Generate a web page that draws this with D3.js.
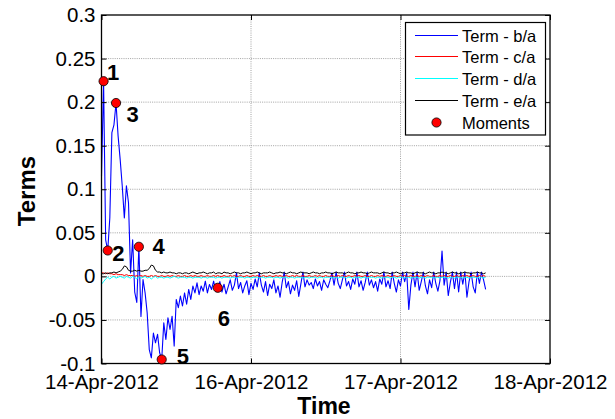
<!DOCTYPE html>
<html>
<head>
<meta charset="utf-8">
<script src="https://cdn.jsdelivr.net/npm/d3@7/dist/d3.min.js"></script>
<style>
  html, body { margin: 0; padding: 0; background: #fff; }
  svg { display: block; font-family: "Liberation Sans", Arial, sans-serif; }
</style>
</head>
<body>
<div id="chart"></div>
<script>
// Sampling: one value every 20 minutes, time measured in days from the left edge of the axis
const sampleStepDays = 1 / 72;

// Term - b/a
const termBA = [
  0.115, 0.224, 0.042, 0.0297, 0.067, 0.165, 0.174, 0.199, 0.161, 0.134,
  0.1035, 0.067, 0.104, 0.0845, 0.004, 0.042, -0.018, -0.030, 0.034, -0.046,
  -0.0036, -0.019, -0.042, -0.084, -0.0935, -0.065, -0.0762, -0.0666, -0.0877, -0.0954,
  -0.0533, -0.0724, -0.0475, -0.061, -0.0457, -0.080, -0.0265, -0.036, -0.0227, -0.034,
  -0.019, -0.032, -0.015, -0.0265, -0.011, -0.019, -0.0074, -0.021, -0.011, -0.017,
  -0.0055, -0.019, -0.0093, -0.015, -0.0055, -0.017, -0.0131, -0.006, -0.018, -0.009,
  -0.020, -0.012, -0.004, -0.016, -0.010, 0.004, -0.014, -0.007, -0.019, -0.011,
  -0.005, -0.021, -0.008, -0.015, -0.003, -0.012, 0.004, -0.010, -0.018, -0.006,
  -0.022, -0.009, -0.014, -0.004, -0.019, -0.011, -0.024, -0.007, 0.005, -0.013,
  -0.006, -0.020, -0.010, -0.016, -0.005, -0.023, -0.009, 0.005, -0.012, -0.004,
  -0.010, -0.007, -0.014, -0.003, -0.011, -0.006, -0.016, -0.004, -0.009, -0.013,
  -0.005, 0.004, -0.010, 0.005, -0.008, -0.014, -0.004, 0.005, -0.011, -0.006,
  -0.015, -0.003, -0.009, 0.005, -0.012, -0.005, -0.016, -0.007, 0.005, -0.010,
  -0.004, -0.013, -0.006, -0.017, -0.003, -0.009, 0.005, -0.012, -0.005, -0.014,
  0.005, -0.008, -0.018, -0.004, -0.011, 0.005, -0.006, 0.004, -0.038, -0.010,
  0.005, -0.012, 0.005, -0.016, -0.006, 0.005, -0.011, -0.020, -0.004, -0.013,
  0.005, -0.008, -0.017, -0.005, 0.029, -0.010, 0.005, -0.022, -0.007, 0.005,
  -0.014, 0.005, -0.018, 0.005, -0.009, 0.005, -0.024, -0.006, 0.005, -0.012,
  -0.019, 0.005, -0.008, 0.005, -0.004, -0.015
];

// Term - c/a
const termCA = [
  0.004, 0.004, 0.003, 0.004, 0.003, 0.003, 0.002, 0.003, 0.002, 0.002,
  0.002, 0.001, 0.002, 0.001, 0.001, 0.001, 0.000, 0.001, 0.000, 0.001,
  0.000, 0.001, 0.000, 0.000, 0.001, 0.000, 0.001, 0.000, 0.000, 0.001,
  0.000, 0.000, 0.001, 0.000, 0.001, 0.000, 0.000, 0.001, 0.000, 0.000,
  0.001, 0.000, 0.000, 0.001, 0.000, 0.001, 0.000, 0.000, 0.001, 0.000,
  0.000, 0.001, 0.000, 0.000, 0.001, 0.000, 0.001, 0.000, 0.000, 0.001,
  0.000, 0.000, 0.001, 0.000, 0.001, 0.000, 0.000, 0.001, 0.000, 0.000,
  0.001, 0.000, 0.000, 0.001, 0.000, 0.001, 0.000, 0.000, 0.001, 0.000,
  0.000, 0.001, 0.000, 0.000, 0.001, 0.000, 0.001, 0.000, 0.000, 0.001,
  0.000, 0.000, 0.001, 0.000, 0.001, 0.000, 0.000, 0.001, 0.000, 0.000,
  0.001, 0.000, 0.000, 0.001, 0.000, 0.001, 0.000, 0.000, 0.001, 0.000,
  0.000, 0.001, 0.000, 0.000, 0.001, 0.000, 0.001, 0.000, 0.000, 0.001,
  0.000, 0.000, 0.001, 0.000, 0.001, 0.000, 0.000, 0.001, 0.000, 0.000,
  0.001, 0.000, 0.000, 0.001, 0.000, 0.001, 0.000, 0.000, 0.001, 0.000,
  0.000, 0.001, 0.000, 0.000, 0.001, 0.000, 0.001, 0.000, 0.000, 0.001,
  0.000, 0.000, 0.001, 0.000, 0.001, 0.000, 0.000, 0.001, 0.000, 0.000,
  0.001, 0.000, 0.000, 0.001, 0.000, 0.001, 0.000, 0.000, 0.001, 0.000,
  0.000, 0.001, 0.000, 0.000, 0.001, 0.000, 0.001, 0.000, 0.000, 0.001,
  0.000, 0.000, 0.001, 0.000, 0.001, 0.000
];

// Term - d/a
const termDA = [
  -0.009, -0.006, -0.003, -0.001, -0.003, -0.001, 0.000, -0.002, -0.001, 0.000,
  -0.001, -0.002, 0.000, -0.001, -0.002, 0.000, -0.001, -0.003, 0.000, -0.002,
  -0.001, 0.000, -0.002, -0.001, -0.003, -0.001, 0.000, -0.002, -0.001, -0.001,
  -0.002, -0.001, -0.001, -0.002, -0.001, 0.000, -0.001, -0.002, -0.001, -0.001,
  -0.001, -0.002, -0.001, -0.001, -0.002, -0.001, -0.001, -0.001, -0.002, -0.001,
  -0.001, -0.002, -0.001, -0.001, -0.001, -0.002, -0.001, -0.001, -0.002, -0.001,
  -0.001, -0.001, -0.002, -0.001, -0.001, -0.002, -0.001, -0.001, -0.001, -0.002,
  -0.001, -0.001, -0.002, -0.001, -0.001, -0.001, -0.002, -0.001, -0.001, -0.002,
  -0.001, -0.001, -0.001, -0.002, -0.001, -0.001, -0.002, -0.001, -0.001, -0.001,
  -0.002, -0.001, -0.001, -0.002, -0.001, -0.001, -0.001, -0.002, -0.001, -0.001,
  -0.002, -0.001, -0.001, -0.001, -0.002, -0.001, -0.001, -0.002, -0.001, -0.001,
  -0.001, -0.002, -0.001, -0.001, -0.002, -0.001, -0.001, -0.001, -0.002, -0.001,
  -0.001, -0.002, -0.001, -0.001, -0.001, -0.002, -0.001, -0.001, -0.002, -0.001,
  -0.001, -0.001, -0.002, -0.001, -0.001, -0.002, -0.001, -0.001, -0.001, -0.002,
  -0.001, -0.001, -0.002, -0.001, -0.001, -0.001, -0.002, -0.001, -0.001, -0.002,
  -0.001, -0.001, -0.001, -0.002, -0.001, -0.001, -0.002, -0.001, -0.001, -0.001,
  -0.002, -0.001, -0.001, -0.002, -0.001, -0.001, -0.001, -0.002, -0.001, -0.001,
  -0.002, -0.001, -0.001, -0.001, -0.002, -0.001, -0.001, -0.002, -0.001, -0.001,
  -0.001, -0.002, -0.001, -0.001, -0.002, -0.001
];

// Term - e/a
const termEA = [
  0.003, 0.003, 0.004, 0.003, 0.004, 0.004, 0.005, 0.004, 0.005, 0.006,
  0.008, 0.012, 0.011, 0.007, 0.006, 0.006, 0.007, 0.006, 0.007, 0.006,
  0.006, 0.007, 0.007, 0.009, 0.013, 0.012, 0.007, 0.005, 0.005, 0.004,
  0.005, 0.004, 0.004, 0.005, 0.004, 0.004, 0.003, 0.004, 0.004, 0.003,
  0.004, 0.004, 0.003, 0.004, 0.005, 0.004, 0.003, 0.004, 0.004, 0.005,
  0.004, 0.003, 0.004, 0.004, 0.005, 0.003, 0.004, 0.004, 0.003, 0.005,
  0.004, 0.004, 0.003, 0.004, 0.005, 0.004, 0.004, 0.003, 0.004, 0.004,
  0.005, 0.004, 0.003, 0.004, 0.004, 0.005, 0.004, 0.003, 0.004, 0.004,
  0.004, 0.005, 0.004, 0.003, 0.004, 0.004, 0.005, 0.004, 0.004, 0.003,
  0.004, 0.005, 0.004, 0.004, 0.003, 0.004, 0.005, 0.004, 0.004, 0.004,
  0.003, 0.004, 0.005, 0.004, 0.004, 0.003, 0.004, 0.004, 0.005, 0.004,
  0.004, 0.003, 0.004, 0.005, 0.004, 0.004, 0.004, 0.003, 0.004, 0.005,
  0.004, 0.004, 0.003, 0.004, 0.004, 0.005, 0.004, 0.004, 0.003, 0.004,
  0.005, 0.004, 0.004, 0.004, 0.003, 0.004, 0.005, 0.004, 0.004, 0.003,
  0.004, 0.004, 0.005, 0.004, 0.003, 0.004, 0.004, 0.005, 0.004, 0.004,
  0.003, 0.004, 0.005, 0.004, 0.004, 0.004, 0.003, 0.004, 0.005, 0.004,
  0.004, 0.003, 0.004, 0.004, 0.005, 0.004, 0.004, 0.003, 0.004, 0.005,
  0.004, 0.004, 0.003, 0.004, 0.004, 0.005, 0.004, 0.004, 0.003, 0.004,
  0.004, 0.005, 0.004, 0.004, 0.003, 0.004
];

// Moments: sample indices on the b/a series, and their labels
const momentIndices = [1, 3, 7, 18, 29, 56];
const momentLabels = ["1", "2", "3", "4", "5", "6"];

// Axis ticks
const xTickValues = [0, 1, 2, 3];
const xTickLabels = ["14-Apr-2012", "16-Apr-2012", "17-Apr-2012", "18-Apr-2012"];
const yTickValues = [-0.1, -0.05, 0, 0.05, 0.1, 0.15, 0.2, 0.25, 0.3];
const yTickLabels = ["-0.1", "-0.05", "0", "0.05", "0.1", "0.15", "0.2", "0.25", "0.3"];

const legendLabels = ["Term - b/a", "Term - c/a", "Term - d/a", "Term - e/a", "Moments"];

// ---- layout & style ----
const W = 615, H = 419;
const box = { left: 101.5, right: 550, top: 15, bottom: 363.5 };
const seriesStyle = [
  { values: termBA, color: "#0000ff", width: 1.1 },
  { values: termCA, color: "#ff0000", width: 1 },
  { values: termDA, color: "#00ffff", width: 1 },
  { values: termEA, color: "#000000", width: 1 }
];
// label placement relative to each moment marker (px)
const momentLabelOffsets = [[3.5, -1.5], [4.5, 11], [10.5, 19.5], [13.5, 7.5], [15, 5], [0, 38.5]];

const svg = d3.select("#chart").append("svg").attr("width", W).attr("height", H);

const x = d3.scaleLinear().domain([0, 3]).range([box.left, box.right]);
const y = d3.scaleLinear().domain([-0.1, 0.3]).range([box.bottom, box.top]);

const plotW = box.right - box.left, plotH = box.bottom - box.top;

// grid
const grid = svg.append("g").attr("class", "grid")
  .attr("stroke", "#8c8c8c").attr("stroke-width", 0.8).attr("stroke-dasharray", "1,1.2");
grid.selectAll("line.v").data(xTickValues.slice(1, -1)).enter().append("line")
  .attr("x1", d => x(d)).attr("x2", d => x(d)).attr("y1", box.top).attr("y2", box.bottom);
grid.selectAll("line.h").data(yTickValues.slice(1, -1)).enter().append("line")
  .attr("x1", box.left).attr("x2", box.right).attr("y1", d => y(d)).attr("y2", d => y(d));

// series
const line = d3.line().x((d, i) => x(i * sampleStepDays)).y(d => y(d));
svg.append("g").selectAll("path").data(seriesStyle).enter().append("path")
  .attr("d", d => line(d.values))
  .attr("fill", "none")
  .attr("stroke", d => d.color)
  .attr("stroke-width", d => d.width)
  .attr("stroke-linejoin", "round");

// axes (inward ticks on all four sides)
const tickLen = 5;
const fontTick = "20.5px";
const axBottom = d3.axisBottom(x).tickValues(xTickValues)
  .tickFormat((d, i) => xTickLabels[i]).tickSizeInner(-tickLen).tickSizeOuter(0).tickPadding(10.5);
const axTop = d3.axisTop(x).tickValues(xTickValues).tickFormat("").tickSizeInner(-tickLen).tickSizeOuter(0);
const axLeft = d3.axisLeft(y).tickValues(yTickValues)
  .tickFormat((d, i) => yTickLabels[i]).tickSizeInner(-tickLen).tickSizeOuter(0).tickPadding(6);
const axRight = d3.axisRight(y).tickValues(yTickValues).tickFormat("").tickSizeInner(-tickLen).tickSizeOuter(0);

function styleAxis(g) {
  g.select(".domain").remove();
  g.selectAll(".tick line").attr("stroke", "#000").attr("stroke-width", 1);
  g.selectAll(".tick text").attr("fill", "#000").style("font-size", fontTick)
    .style("font-family", "'Liberation Sans', Arial, sans-serif");
}
svg.append("g").attr("transform", `translate(0,${box.bottom})`).call(axBottom).call(styleAxis);
svg.append("g").attr("transform", `translate(0,${box.top})`).call(axTop).call(styleAxis);
svg.append("g").attr("transform", `translate(${box.left},0)`).call(axLeft).call(styleAxis);
svg.append("g").attr("transform", `translate(${box.right},0)`).call(axRight).call(styleAxis);

svg.append("rect")
  .attr("x", box.left).attr("y", box.top).attr("width", plotW).attr("height", plotH)
  .attr("fill", "none").attr("stroke", "#000").attr("stroke-width", 1.3);

// moment markers and numbers
const moments = momentIndices.map((idx, k) => ({
  t: idx * sampleStepDays, v: termBA[idx], label: momentLabels[k], off: momentLabelOffsets[k]
}));
svg.append("g").selectAll("circle").data(moments).enter().append("circle")
  .attr("cx", d => x(d.t)).attr("cy", d => y(d.v)).attr("r", 4.6)
  .attr("fill", "#ff0000").attr("stroke", "#000").attr("stroke-width", 0.8);
svg.append("g").selectAll("text").data(moments).enter().append("text")
  .attr("x", d => x(d.t) + d.off[0]).attr("y", d => y(d.v) + d.off[1])
  .attr("font-weight", "bold").attr("font-size", "22px").attr("fill", "#000")
  .text(d => d.label);

// axis titles
svg.append("text").attr("x", 324).attr("y", 413.5).attr("text-anchor", "middle")
  .attr("font-weight", "bold").attr("font-size", "23px").text("Time");
svg.append("text").attr("transform", "translate(35,191) rotate(-90)").attr("text-anchor", "middle")
  .attr("font-weight", "bold").attr("font-size", "24px").text("Terms");

// legend
const lg = svg.append("g").attr("transform", "translate(405.5,22.5)");
lg.append("rect").attr("width", 140).attr("height", 112.5)
  .attr("fill", "#fff").attr("stroke", "#000").attr("stroke-width", 1.2);
const rowY = i => Math.round(12.5 + i * 21.8);
legendLabels.forEach((lab, i) => {
  if (i < seriesStyle.length) {
    lg.append("line").attr("x1", 9.5).attr("x2", 52.5).attr("y1", rowY(i)).attr("y2", rowY(i))
      .attr("stroke", seriesStyle[i].color).attr("stroke-width", 1.2);
  } else {
    lg.append("circle").attr("cx", 31).attr("cy", rowY(i)).attr("r", 4.6)
      .attr("fill", "#ff0000").attr("stroke", "#000").attr("stroke-width", 0.8);
  }
  lg.append("text").attr("x", 56.5).attr("y", rowY(i) + 6)
    .attr("font-size", "16.5px").attr("fill", "#000").text(lab);
});
</script>
</body>
</html>
